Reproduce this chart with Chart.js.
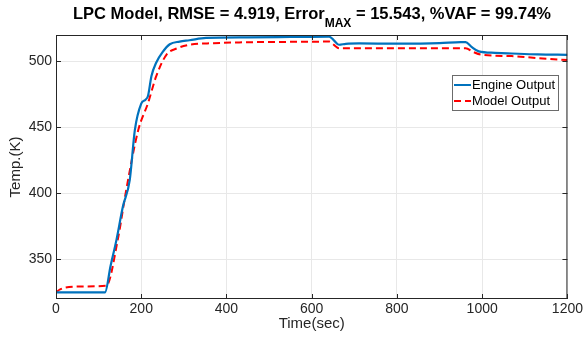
<!DOCTYPE html>
<html lang="en">
<head>
<meta charset="UTF-8">
<title>LPC Model</title>
<script src="https://cdn.jsdelivr.net/npm/chart.js"></script>
<style>
  body { margin: 0; background: #fff; }
  .wrap { position: relative; width: 585px; height: 348px; }
  #title { position: absolute; left: 56px; width: 512px; top: 4px; text-align: center;
           font: bold 16.5px "Liberation Sans", Arial, sans-serif; line-height: 18px; color: #000; white-space: nowrap; }
  #title sub { font-size: 12px; vertical-align: -8px; line-height: 0; }
</style>
</head>
<body>
<div class="wrap">
  <canvas id="chart" width="585" height="348"></canvas>
  <div id="title">LPC Model, RMSE = 4.919, Error<sub>MAX</sub> = 15.543, %VAF = 99.74%</div>
</div>
<script>
// engine (measured) output
const timeEngine = [0, 115, 128, 142, 157, 173, 185, 200, 210, 216, 224, 235, 250, 267, 290, 313, 352, 450, 550, 641, 652, 664, 680, 711, 800, 900, 950, 961, 975, 992, 1030, 1069, 1130, 1200];
const engineTemp = [325, 325, 345, 365, 390, 410, 448, 468, 471, 474, 489, 499, 507, 513, 515, 516, 517.8, 518.2, 518.5, 518.8, 516, 512.6, 513.3, 513.6, 513.4, 513.8, 514.6, 514.6, 511, 507.6, 506.5, 506, 505.3, 505];

// LPC model output
const timeModel = [0, 8, 20, 60, 118, 145, 165, 193, 216, 235, 259, 285, 313, 370, 430, 550, 641, 652, 664, 800, 961, 980, 999, 1069, 1130, 1200];
const modelTemp = [325, 327, 328.5, 329.5, 330, 365, 403, 448, 468.5, 488.6, 505, 510, 512.6, 513.8, 514.4, 514.8, 515, 512.5, 510, 510, 510, 507, 505, 504, 502.5, 501];

const xTicks = [0, 200, 400, 600, 800, 1000, 1200];
const yTicks = [350, 400, 450, 500];

const FONT = '"Liberation Sans", Arial, sans-serif';
const INK = '#262626';

const toPoints = (xs, ys) => xs.map((t, i) => ({ x: t, y: ys[i] }));

// box, inward ticks and legend like the matlab figure
const frame = {
    id: 'frame',
    afterDraw(chart) {
        const { ctx, chartArea: a, scales: { x, y } } = chart;
        ctx.save();
        ctx.strokeStyle = INK;
        ctx.lineWidth = 1;
        ctx.strokeRect(a.left + 0.5, a.top + 0.5, a.width - 1, a.height - 1);
        ctx.beginPath();
        x.ticks.forEach(t => {
            const px = Math.round(x.getPixelForValue(t.value)) + 0.5;
            ctx.moveTo(px, a.bottom); ctx.lineTo(px, a.bottom - 5);
            ctx.moveTo(px, a.top); ctx.lineTo(px, a.top + 5);
        });
        y.ticks.forEach(t => {
            const py = Math.round(y.getPixelForValue(t.value)) + 0.5;
            ctx.moveTo(a.left, py); ctx.lineTo(a.left + 5, py);
            ctx.moveTo(a.right, py); ctx.lineTo(a.right - 5, py);
        });
        ctx.stroke();

        // legend
        const bx = 452, by = 75, bw = 106, bh = 35;
        ctx.fillStyle = '#fff';
        ctx.fillRect(bx, by, bw, bh);
        ctx.strokeStyle = '#6b6b6b';
        ctx.strokeRect(bx + 0.5, by + 0.5, bw, bh);
        ctx.font = '13px ' + FONT;
        ctx.textBaseline = 'middle';
        chart.data.datasets.forEach((ds, i) => {
            const cy = by + 10 + i * 16;
            ctx.beginPath();
            ctx.strokeStyle = ds.borderColor;
            ctx.lineWidth = 2;
            ctx.setLineDash(ds.borderDash || []);
            ctx.moveTo(bx + 2, cy);
            ctx.lineTo(bx + 19, cy);
            ctx.stroke();
            ctx.setLineDash([]);
            ctx.fillStyle = '#000';
            ctx.fillText(ds.label, bx + 20, cy);
        });
        ctx.restore();
    }
};

new Chart(document.getElementById('chart'), {
    type: 'line',
    data: {
        datasets: [{
            label: 'Engine Output',
            data: toPoints(timeEngine, engineTemp),
            borderColor: '#0072BD',
            borderWidth: 2.2,
            pointRadius: 0,
            cubicInterpolationMode: 'monotone'
        }, {
            label: 'Model Output',
            data: toPoints(timeModel, modelTemp),
            borderColor: '#FF0000',
            borderWidth: 2,
            borderDash: [7, 4],
            pointRadius: 0,
            cubicInterpolationMode: 'monotone'
        }]
    },
    options: {
        responsive: false,
        animation: false,
        devicePixelRatio: 1,
        layout: { padding: { top: 35, right: 17, left: 0, bottom: 0 } },
        plugins: { legend: { display: false }, tooltip: { enabled: false } },
        scales: {
            x: {
                type: 'linear',
                min: 0, max: 1200,
                afterBuildTicks: s => { s.ticks = xTicks.map(v => ({ value: v })); },
                afterFit: s => { s.height = 49; },
                grid: { color: '#e8e8e8', drawTicks: false },
                border: { display: false },
                ticks: { color: INK, padding: 2, maxRotation: 0, font: { family: FONT, size: 14 }, callback: v => String(v) },
                title: { display: true, text: 'Time(sec)', color: INK, padding: { top: 0, bottom: 15 }, font: { family: FONT, size: 15 } }
            },
            y: {
                min: 320, max: 520,
                afterBuildTicks: s => { s.ticks = yTicks.map(v => ({ value: v })); },
                afterFit: s => { s.width = 56; },
                grid: { color: '#e8e8e8', drawTicks: false },
                border: { display: false },
                ticks: { color: INK, padding: 4, font: { family: FONT, size: 14 }, callback: v => String(v) },
                title: { display: true, text: 'Temp.(K)', color: INK, padding: { top: 7, bottom: 0 }, font: { family: FONT, size: 15 } }
            }
        }
    },
    plugins: [frame]
});
</script>
</body>
</html>
